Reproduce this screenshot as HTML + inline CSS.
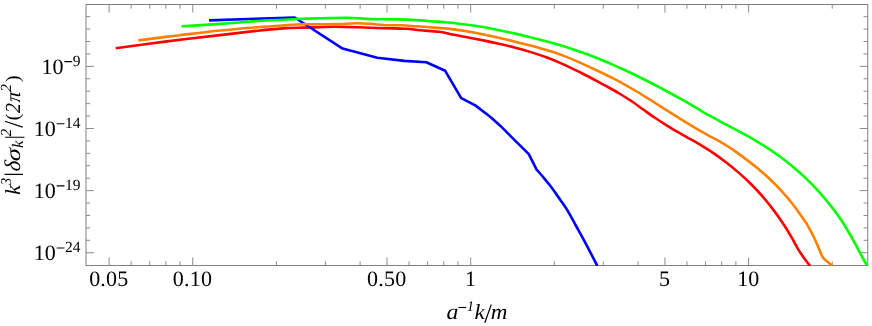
<!DOCTYPE html>
<html><head><meta charset="utf-8"><title>plot</title>
<style>
html,body{margin:0;padding:0;background:#fff;}
svg text{-webkit-font-smoothing:antialiased;text-rendering:geometricPrecision;}

body{width:872px;height:326px;position:relative;overflow:hidden;font-family:"Liberation Serif",serif;}
</style></head><body>
<svg width="872" height="326" viewBox="0 0 872 326" style="position:absolute;left:0;top:0;will-change:transform">
<defs><clipPath id="c"><rect x="85.5" y="4.0" width="782.75" height="262.1"/></clipPath></defs>
<path d="M109.12,265.5 v-8.0 M109.12,4.5 v8.0 M192.78,265.5 v-8.0 M192.78,4.5 v8.0 M387.03,265.5 v-8.0 M387.03,4.5 v8.0 M470.69,265.5 v-8.0 M470.69,4.5 v8.0 M664.94,265.5 v-8.0 M664.94,4.5 v8.0 M748.60,265.5 v-8.0 M748.60,4.5 v8.0 M131.13,265.5 v-4.2 M131.13,4.5 v4.2 M149.73,265.5 v-4.2 M149.73,4.5 v4.2 M165.85,265.5 v-4.2 M165.85,4.5 v4.2 M180.06,265.5 v-4.2 M180.06,4.5 v4.2 M276.44,265.5 v-4.2 M276.44,4.5 v4.2 M325.38,265.5 v-4.2 M325.38,4.5 v4.2 M360.10,265.5 v-4.2 M360.10,4.5 v4.2 M409.04,265.5 v-4.2 M409.04,4.5 v4.2 M427.64,265.5 v-4.2 M427.64,4.5 v4.2 M443.76,265.5 v-4.2 M443.76,4.5 v4.2 M457.97,265.5 v-4.2 M457.97,4.5 v4.2 M554.35,265.5 v-4.2 M554.35,4.5 v4.2 M603.29,265.5 v-4.2 M603.29,4.5 v4.2 M638.01,265.5 v-4.2 M638.01,4.5 v4.2 M686.95,265.5 v-4.2 M686.95,4.5 v4.2 M705.55,265.5 v-4.2 M705.55,4.5 v4.2 M721.67,265.5 v-4.2 M721.67,4.5 v4.2 M735.88,265.5 v-4.2 M735.88,4.5 v4.2 M832.26,265.5 v-4.2 M832.26,4.5 v4.2 M86.0,252.74 h8.0 M867.75,252.74 h-8.0 M86.0,240.31 h4.2 M867.75,240.31 h-4.2 M86.0,227.88 h4.2 M867.75,227.88 h-4.2 M86.0,215.46 h4.2 M867.75,215.46 h-4.2 M86.0,203.04 h4.2 M867.75,203.04 h-4.2 M86.0,190.61 h8.0 M867.75,190.61 h-8.0 M86.0,178.19 h4.2 M867.75,178.19 h-4.2 M86.0,165.76 h4.2 M867.75,165.76 h-4.2 M86.0,153.34 h4.2 M867.75,153.34 h-4.2 M86.0,140.91 h4.2 M867.75,140.91 h-4.2 M86.0,128.49 h8.0 M867.75,128.49 h-8.0 M86.0,116.06 h4.2 M867.75,116.06 h-4.2 M86.0,103.64 h4.2 M867.75,103.64 h-4.2 M86.0,91.21 h4.2 M867.75,91.21 h-4.2 M86.0,78.78 h4.2 M867.75,78.78 h-4.2 M86.0,66.36 h8.0 M867.75,66.36 h-8.0 M86.0,53.94 h4.2 M867.75,53.94 h-4.2 M86.0,41.51 h4.2 M867.75,41.51 h-4.2 M86.0,29.08 h4.2 M867.75,29.08 h-4.2 M86.0,16.66 h4.2 M867.75,16.66 h-4.2" stroke="#8c8c8c" stroke-width="1" fill="none"/>
<rect x="86.0" y="4.5" width="781.75" height="261.0" fill="none" stroke="#808080" stroke-width="1"/>
<g clip-path="url(#c)" fill="none" stroke-width="2.6" stroke-linejoin="round" stroke-linecap="butt">
<path d="M115.70,48.20 C123.92,47.10 147.62,43.78 165.00,41.60 C182.38,39.42 204.53,36.92 220.00,35.10 C235.47,33.28 247.28,31.82 257.80,30.70 C268.32,29.58 275.73,28.92 283.10,28.40 C290.47,27.88 295.85,27.80 302.00,27.60 C308.15,27.40 314.48,27.33 320.00,27.20 C325.52,27.07 328.80,26.78 335.10,26.80 C341.40,26.82 349.80,27.07 357.80,27.30 C365.80,27.53 375.10,27.97 383.10,28.20 C391.10,28.43 399.65,28.35 405.80,28.70 C411.95,29.05 414.48,29.78 420.00,30.30 C425.52,30.82 433.75,31.16 438.90,31.80 C444.05,32.45 446.90,33.39 450.90,34.16 C454.90,34.93 458.90,35.67 462.90,36.44 C466.90,37.20 470.90,37.94 474.90,38.72 C478.90,39.50 482.90,40.28 486.90,41.11 C490.90,41.94 494.90,42.78 498.90,43.68 C502.90,44.58 506.90,45.52 510.90,46.52 C514.90,47.53 518.90,48.58 522.90,49.72 C526.90,50.87 530.90,52.07 534.90,53.37 C538.90,54.68 542.90,56.05 546.90,57.55 C550.90,59.05 554.90,60.64 558.90,62.35 C562.90,64.06 566.90,65.90 570.90,67.80 C574.90,69.69 578.90,71.71 582.90,73.74 C586.90,75.78 590.90,77.89 594.90,80.00 C598.90,82.12 602.90,84.23 606.90,86.44 C610.90,88.65 614.90,90.85 618.90,93.25 C622.90,95.64 626.90,98.12 630.90,100.79 C634.90,103.46 638.90,106.44 642.90,109.27 C646.90,112.10 650.90,115.08 654.90,117.79 C658.90,120.50 662.90,123.05 666.90,125.52 C670.90,127.99 674.90,130.31 678.90,132.63 C682.90,134.95 686.90,137.16 690.90,139.45 C694.90,141.75 698.90,143.95 702.90,146.39 C706.90,148.84 710.90,151.34 714.90,154.11 C718.90,156.89 722.90,159.91 726.90,163.04 C730.90,166.16 734.90,169.38 738.90,172.87 C742.90,176.36 746.90,179.98 750.90,183.97 C754.90,187.97 758.90,192.18 762.90,196.83 C766.90,201.48 771.27,207.00 774.90,211.86 C778.53,216.72 781.98,221.85 784.70,225.99 C787.42,230.13 788.95,232.80 791.20,236.70 C793.45,240.60 796.33,246.23 798.20,249.40 C800.07,252.57 801.10,253.82 802.40,255.70 C803.70,257.58 804.70,259.02 806.00,260.70 C807.30,262.38 809.50,264.95 810.20,265.80" stroke="#ff0000"/>
<path d="M209.0,20.4 L294.7,17.5 L342.6,48.6 L377.3,57.7 L404.4,60.9 L426.3,62.2 L445.2,70.8 L461.2,98.1 L475.3,105.4 L490.5,117.0 L500.2,125.7 L514.1,139.6 L528.8,154.2 L536.6,169.6 L536.60,169.60 C537.80,170.97 541.37,174.90 543.80,177.80 C546.23,180.70 549.05,184.17 551.20,187.00 C553.35,189.83 555.17,192.63 556.70,194.80 C558.23,196.97 558.58,197.37 560.40,200.00 C562.22,202.63 564.98,206.27 567.60,210.60 C570.22,214.93 573.18,220.72 576.10,226.00 C579.02,231.28 581.57,235.67 585.10,242.30 C588.63,248.93 595.27,261.88 597.30,265.80" stroke="#0000ff"/>
<path d="M138.40,40.40 C145.33,39.53 166.40,36.85 180.00,35.20 C193.60,33.55 207.03,31.83 220.00,30.50 C232.97,29.17 247.30,28.05 257.80,27.20 C268.30,26.35 275.63,25.88 283.00,25.40 C290.37,24.92 295.83,24.48 302.00,24.30 C308.17,24.12 313.85,24.33 320.00,24.30 C326.15,24.27 333.02,24.27 338.90,24.10 C344.78,23.93 350.03,23.35 355.30,23.30 C360.57,23.25 365.45,23.48 370.50,23.80 C375.55,24.12 380.35,24.95 385.60,25.20 C390.85,25.45 396.95,25.12 402.00,25.30 C407.05,25.48 411.23,25.97 415.90,26.30 C420.57,26.63 425.12,26.96 430.00,27.30 C434.88,27.64 440.67,27.92 445.20,28.35 C449.73,28.78 453.20,29.30 457.20,29.86 C461.20,30.43 465.20,31.07 469.20,31.75 C473.20,32.44 477.20,33.18 481.20,33.97 C485.20,34.76 489.20,35.60 493.20,36.47 C497.20,37.35 501.20,38.27 505.20,39.21 C509.20,40.15 513.20,41.14 517.20,42.14 C521.20,43.13 525.20,44.16 529.20,45.20 C533.20,46.25 537.20,47.27 541.20,48.41 C545.20,49.55 549.20,50.71 553.20,52.03 C557.20,53.36 561.20,54.81 565.20,56.38 C569.20,57.94 573.20,59.67 577.20,61.42 C581.20,63.17 585.20,65.03 589.20,66.88 C593.20,68.74 597.20,70.61 601.20,72.53 C605.20,74.46 609.20,76.39 613.20,78.44 C617.20,80.48 621.20,82.57 625.20,84.79 C629.20,87.01 633.20,89.36 637.20,91.76 C641.20,94.17 645.20,96.71 649.20,99.22 C653.20,101.72 657.20,104.26 661.20,106.79 C665.20,109.32 669.20,111.86 673.20,114.39 C677.20,116.92 681.20,119.54 685.20,121.98 C689.20,124.43 693.20,126.77 697.20,129.07 C701.20,131.37 705.20,133.55 709.20,135.78 C713.20,138.01 717.20,140.11 721.20,142.47 C725.20,144.83 729.20,147.22 733.20,149.91 C737.20,152.61 741.20,155.60 745.20,158.62 C749.20,161.64 753.20,164.73 757.20,168.04 C761.20,171.35 765.20,174.73 769.20,178.48 C773.20,182.22 777.20,186.14 781.20,190.51 C785.20,194.88 789.20,199.52 793.20,204.70 C797.20,209.89 802.73,218.08 805.20,221.63 C807.67,225.18 806.58,223.52 808.00,226.03 C809.42,228.55 811.92,233.04 813.70,236.70 C815.48,240.36 817.28,244.72 818.70,248.00 C820.12,251.28 821.03,254.33 822.20,256.40 C823.37,258.47 823.97,258.83 825.70,260.40 C827.43,261.97 831.45,264.90 832.60,265.80" stroke="#ff8000"/>
<path d="M181.50,26.40 C187.92,25.98 207.28,24.80 220.00,23.90 C232.72,23.00 247.30,21.69 257.80,21.00 C268.30,20.31 275.63,20.11 283.00,19.75 C290.37,19.39 295.83,19.09 302.00,18.85 C308.17,18.61 312.37,18.49 320.00,18.30 C327.63,18.11 339.38,17.57 347.80,17.70 C356.22,17.83 362.10,18.82 370.50,19.10 C378.90,19.38 390.63,19.23 398.20,19.40 C405.77,19.57 410.60,19.80 415.90,20.10 C421.20,20.40 425.12,20.84 430.00,21.20 C434.88,21.56 440.67,21.90 445.20,22.27 C449.73,22.64 453.20,22.97 457.20,23.42 C461.20,23.87 465.20,24.39 469.20,24.95 C473.20,25.52 477.20,26.15 481.20,26.82 C485.20,27.49 489.20,28.22 493.20,28.99 C497.20,29.76 501.20,30.58 505.20,31.44 C509.20,32.29 513.20,33.19 517.20,34.12 C521.20,35.05 525.20,36.02 529.20,37.01 C533.20,38.00 537.20,39.02 541.20,40.07 C545.20,41.12 549.20,42.18 553.20,43.30 C557.20,44.42 561.20,45.57 565.20,46.80 C569.20,48.03 573.20,49.31 577.20,50.67 C581.20,52.04 585.20,53.48 589.20,54.99 C593.20,56.50 597.20,58.09 601.20,59.73 C605.20,61.37 609.20,63.08 613.20,64.84 C617.20,66.59 621.20,68.41 625.20,70.27 C629.20,72.13 633.20,74.04 637.20,76.00 C641.20,77.95 645.20,79.95 649.20,82.00 C653.20,84.04 657.20,86.13 661.20,88.26 C665.20,90.38 669.20,92.55 673.20,94.76 C677.20,96.96 681.20,99.20 685.20,101.48 C689.20,103.76 693.20,106.10 697.20,108.44 C701.20,110.77 705.20,113.22 709.20,115.49 C713.20,117.75 717.20,119.90 721.20,122.04 C725.20,124.17 729.20,126.17 733.20,128.28 C737.20,130.38 741.20,132.46 745.20,134.67 C749.20,136.87 753.20,139.13 757.20,141.54 C761.20,143.94 765.20,146.42 769.20,149.08 C773.20,151.74 777.20,154.52 781.20,157.49 C785.20,160.47 789.20,163.59 793.20,166.95 C797.20,170.31 801.20,173.84 805.20,177.66 C809.20,181.48 813.20,185.51 817.20,189.87 C821.20,194.23 825.20,198.80 829.20,203.83 C833.20,208.86 837.20,214.00 841.20,220.04 C845.20,226.08 850.48,235.41 853.20,240.08 C855.92,244.75 855.85,244.97 857.50,248.05 C859.15,251.14 861.45,255.61 863.10,258.60 C864.75,261.59 866.68,264.77 867.40,266.00" stroke="#00ff00"/>
</g>
<g class="t" font-family="Liberation Serif, serif" font-size="22" fill="#000" text-anchor="middle">
<text x="108.8" y="286.2" letter-spacing="0.2">0.05</text>
<text x="192.5" y="286.2" letter-spacing="0.2">0.10</text>
<text x="386.7" y="286.2" letter-spacing="0.2">0.50</text>
<text x="470.4" y="286.2">1</text>
<text x="664.6" y="286.2">5</text>
<text x="748.3" y="286.2">10</text>
</g>
<g class="t" font-family="Liberation Serif, serif" fill="#000" text-anchor="end">
<text x="80.6" y="65.96" font-size="15.5">9</text>
<text x="63.50" y="73.96" font-size="22">10</text>
<text x="80.6" y="128.09" font-size="15.5">14</text>
<text x="55.75" y="136.09" font-size="22">10</text>
<text x="80.6" y="190.21" font-size="15.5">19</text>
<text x="55.75" y="198.21" font-size="22">10</text>
<text x="80.6" y="252.34" font-size="15.5">24</text>
<text x="55.75" y="260.34" font-size="22">10</text>
<path d="M64.40,61.61 H72.20 M56.65,123.74 H64.45 M56.65,185.86 H64.45 M56.65,247.99 H64.45" stroke="#000" stroke-width="1.05" fill="none"/>
</g>
<g class="t" font-family="Liberation Serif, serif" fill="#000">
<text font-style="italic" font-size="22" transform="translate(446.50,319.00) scale(1.08,1)">a</text>
<path d="M458.4,307.5 H466.2" stroke="#000" stroke-width="1.1"/>
<text font-style="italic" font-size="14.7" transform="translate(466.80,311.20)">1</text>
<text font-style="italic" font-size="21.5" transform="translate(474.40,319.00) scale(1.08,1)">k</text>
<path d="M484.8,322.7 L491.3,304.5" stroke="#000" stroke-width="1.2"/>
<text font-style="italic" font-size="22" transform="translate(490.70,319.00) scale(1.05,1)">m</text>
</g>
<g class="t" font-family="Liberation Serif, serif" fill="#000" transform="translate(19.5,194.3) rotate(-90)">
<text font-style="italic" font-size="21.5" transform="translate(-0.50,0.00)">k</text>
<text font-style="italic" font-size="15" transform="translate(9.30,-8.50) scale(0.95,1)">3</text>
<path d="M19.9,-14.9 V3.5 M57.1,-14.3 V5.0" stroke="#000" stroke-width="1.1"/>
<text font-style="italic" font-size="22.5" transform="translate(22.45,0.00) skewX(-6)">δ</text>
<text font-style="italic" font-size="21" transform="translate(32.70,0.00) skewX(-4) scale(1.24,1)">σ</text>
<text font-style="italic" font-size="16" transform="translate(46.30,3.90) scale(1.05,1)">k</text>
<text font-style="italic" font-size="15.4" transform="translate(57.90,-8.30)">2</text>
<path d="M67.2,3.2 L73.1,-14.6" stroke="#000" stroke-width="1.15"/>
<text font-size="19.5" transform="translate(74.10,-0.90)">(</text>
<text font-style="italic" font-size="21.5" transform="translate(81.40,0.00) scale(0.92,1)">2</text>
<text font-style="italic" font-size="21" transform="translate(91.70,0.00) skewX(-4)">π</text>
<text font-style="italic" font-size="15.4" transform="translate(102.50,-8.80)">2</text>
<text font-size="19.5" transform="translate(112.20,-0.90)">)</text>
</g>
</svg>
</body></html>
